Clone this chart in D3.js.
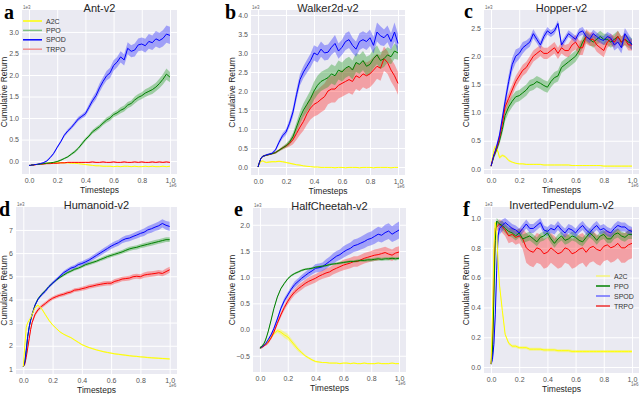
<!DOCTYPE html>
<html>
<head>
<meta charset="utf-8">
<script src="https://cdn.jsdelivr.net/npm/d3@7"></script>
<style>
  body { margin: 0; background: #fff; }
  svg { display: block; }
</style>
</head>
<body>
<svg id="chart" width="640" height="394"></svg>
<script>
// shared timestep grid (units of 1e6), denser at the start
const timesteps = [0, 0.01, 0.02, 0.03, 0.04, 0.05, 0.06, 0.08, 0.1,
  0.125, 0.15, 0.175, 0.2, 0.225, 0.25, 0.275, 0.3, 0.325, 0.35, 0.375, 0.4,
  0.425, 0.45, 0.475, 0.5, 0.525, 0.55, 0.575, 0.6, 0.625, 0.65, 0.675, 0.7,
  0.725, 0.75, 0.775, 0.8, 0.825, 0.85, 0.875, 0.9, 0.925, 0.95, 0.975, 1.0];

const algorithms = ['A2C', 'PPO', 'SPOD', 'TRPO'];
const xTicks = [0, 0.2, 0.4, 0.6, 0.8, 1.0];

// ---- Ant-v2 (1e3) ----
const antA2C = [-0.10,-0.10,-0.09,-0.09,-0.08,-0.08,-0.07,-0.07,-0.06,
  -0.05,-0.05,-0.04,-0.04,-0.04,-0.04,-0.04,-0.05,-0.05,-0.06,-0.07,-0.08,
  -0.09,-0.10,-0.11,-0.11,-0.12,-0.12,-0.12,-0.13,-0.12,-0.13,-0.12,-0.12,
  -0.13,-0.12,-0.13,-0.13,-0.12,-0.13,-0.12,-0.13,-0.13,-0.12,-0.13,-0.12];
const antA2CBand = [0.01,0.01,0.01,0.01,0.01,0.01,0.01,0.01,0.01,
  0.01,0.01,0.01,0.01,0.01,0.01,0.01,0.01,0.01,0.01,0.01,0.01,
  0.01,0.01,0.01,0.01,0.01,0.01,0.01,0.01,0.01,0.01,0.01,0.01,
  0.01,0.01,0.01,0.01,0.01,0.01,0.01,0.01,0.01,0.01,0.01,0.01];
const antPPO = [-0.10,-0.10,-0.09,-0.09,-0.08,-0.08,-0.08,-0.07,-0.06,
  -0.05,-0.04,-0.03,-0.01,0.02,0.06,0.10,0.16,0.22,0.30,0.40,0.50,
  0.58,0.68,0.74,0.80,0.88,0.95,1.00,1.08,1.12,1.18,1.22,1.30,
  1.34,1.42,1.48,1.52,1.58,1.62,1.66,1.72,1.80,1.90,2.02,1.95];
const antPPOBand = [0.01,0.01,0.01,0.01,0.01,0.01,0.01,0.01,0.01,
  0.01,0.01,0.015,0.015,0.02,0.02,0.02,0.025,0.03,0.03,0.035,0.04,
  0.04,0.045,0.05,0.05,0.05,0.06,0.06,0.06,0.06,0.07,0.07,0.07,
  0.07,0.08,0.08,0.08,0.09,0.09,0.1,0.1,0.11,0.12,0.13,0.12];
const antSPOD = [-0.10,-0.10,-0.09,-0.09,-0.08,-0.08,-0.07,-0.06,-0.04,
  0.00,0.08,0.18,0.32,0.45,0.60,0.70,0.78,0.88,0.98,1.04,1.10,
  1.25,1.40,1.52,1.70,1.85,1.98,2.05,2.22,2.30,2.42,2.35,2.62,
  2.55,2.58,2.70,2.72,2.68,2.78,2.75,2.84,2.80,2.85,2.95,2.92];
const antSPODBand = [0.01,0.01,0.01,0.01,0.01,0.01,0.01,0.015,0.015,
  0.02,0.02,0.025,0.03,0.03,0.035,0.04,0.04,0.045,0.05,0.05,0.06,
  0.07,0.08,0.09,0.1,0.1,0.11,0.12,0.12,0.12,0.13,0.13,0.14,
  0.14,0.15,0.15,0.15,0.16,0.17,0.17,0.18,0.18,0.19,0.2,0.2];
const antTRPO = [-0.10,-0.10,-0.09,-0.09,-0.09,-0.08,-0.08,-0.07,-0.07,
  -0.06,-0.06,-0.05,-0.05,-0.04,-0.04,-0.03,-0.03,-0.03,-0.03,-0.03,-0.03,
  -0.03,-0.02,-0.03,-0.03,-0.02,-0.03,-0.03,-0.02,-0.03,-0.03,-0.02,-0.03,
  -0.03,-0.02,-0.03,-0.02,-0.03,-0.03,-0.02,-0.03,-0.02,-0.03,-0.02,-0.03];
const antTRPOBand = [0.01,0.01,0.01,0.01,0.01,0.01,0.01,0.01,0.01,
  0.01,0.01,0.01,0.01,0.015,0.015,0.015,0.015,0.015,0.015,0.015,0.015,
  0.015,0.015,0.015,0.015,0.015,0.015,0.015,0.015,0.015,0.015,0.015,0.015,
  0.015,0.015,0.015,0.015,0.015,0.015,0.015,0.015,0.015,0.015,0.015,0.015];

// ---- Walker2d-v2 (1e3) ----
const walkerA2C = [0.00,0.08,0.14,0.16,0.15,0.13,0.12,0.13,0.14,
  0.14,0.15,0.14,0.12,0.10,0.08,0.06,0.05,0.03,0.02,0.01,0.00,
  0.00,-0.01,-0.01,-0.01,-0.01,-0.02,-0.01,-0.01,-0.02,-0.01,-0.01,-0.01,
  -0.02,-0.01,-0.01,-0.01,-0.02,-0.01,-0.01,-0.01,-0.01,-0.02,-0.01,-0.01];
const walkerA2CBand = [0.01,0.01,0.02,0.02,0.02,0.02,0.02,0.02,0.02,
  0.02,0.02,0.02,0.02,0.02,0.02,0.015,0.015,0.01,0.01,0.01,0.01,
  0.01,0.01,0.01,0.01,0.01,0.01,0.01,0.01,0.01,0.01,0.01,0.01,
  0.01,0.01,0.01,0.01,0.01,0.01,0.01,0.01,0.01,0.01,0.01,0.01];
const walkerPPO = [0.00,0.12,0.22,0.27,0.29,0.30,0.31,0.33,0.35,
  0.38,0.44,0.50,0.56,0.65,0.80,1.05,1.30,1.50,1.65,1.80,2.00,
  2.15,2.25,2.30,2.35,2.45,2.40,2.55,2.50,2.60,2.65,2.55,2.75,
  2.70,2.80,2.65,2.70,2.85,2.95,2.80,2.85,2.95,2.90,3.05,3.00];
const walkerPPOBand = [0.01,0.02,0.02,0.02,0.02,0.02,0.02,0.02,0.02,
  0.03,0.03,0.04,0.05,0.07,0.1,0.13,0.16,0.18,0.2,0.22,0.24,
  0.25,0.25,0.25,0.25,0.25,0.25,0.25,0.25,0.25,0.25,0.25,0.25,
  0.25,0.25,0.25,0.25,0.25,0.25,0.22,0.22,0.2,0.2,0.2,0.18];
const walkerSPOD = [0.00,0.12,0.22,0.27,0.29,0.30,0.32,0.34,0.36,
  0.45,0.65,0.82,0.92,1.15,1.45,1.90,2.30,2.50,2.65,2.80,3.00,
  2.95,3.10,3.00,3.02,3.15,3.25,3.05,3.15,3.30,3.35,3.20,3.10,
  3.30,3.35,3.30,3.40,3.20,3.55,3.45,3.40,3.50,3.30,3.55,3.25];
const walkerSPODBand = [0.01,0.02,0.02,0.02,0.02,0.02,0.02,0.02,0.03,
  0.04,0.06,0.07,0.08,0.1,0.12,0.14,0.15,0.16,0.17,0.18,0.2,
  0.2,0.2,0.2,0.2,0.2,0.22,0.2,0.2,0.22,0.22,0.2,0.2,
  0.22,0.22,0.22,0.22,0.22,0.25,0.25,0.22,0.22,0.22,0.25,0.25];
const walkerTRPO = [0.00,0.12,0.22,0.27,0.29,0.30,0.31,0.33,0.35,
  0.38,0.44,0.50,0.55,0.62,0.72,0.88,1.05,1.20,1.40,1.55,1.65,
  1.70,1.78,1.85,2.00,2.05,2.05,2.15,2.20,2.25,2.30,2.25,2.40,
  2.35,2.45,2.40,2.45,2.55,2.65,2.60,2.85,2.75,2.55,2.40,2.20];
const walkerTRPOBand = [0.01,0.02,0.02,0.02,0.02,0.02,0.02,0.02,0.02,
  0.03,0.03,0.04,0.05,0.08,0.12,0.16,0.2,0.24,0.28,0.3,0.32,
  0.33,0.34,0.35,0.35,0.35,0.35,0.35,0.35,0.35,0.35,0.35,0.35,
  0.35,0.35,0.35,0.35,0.35,0.33,0.33,0.32,0.3,0.3,0.3,0.3];

// ---- Hopper-v2 (1e3) ----
const hopperA2C = [0.05,0.20,0.33,0.40,0.36,0.30,0.20,0.24,0.22,
  0.15,0.12,0.10,0.09,0.09,0.08,0.08,0.08,0.08,0.08,0.07,0.07,
  0.07,0.07,0.07,0.07,0.07,0.07,0.06,0.06,0.06,0.06,0.06,0.06,
  0.06,0.06,0.06,0.05,0.05,0.05,0.05,0.05,0.05,0.05,0.05,0.05];
const hopperA2CBand = [0.01,0.02,0.03,0.03,0.03,0.03,0.03,0.02,0.02,
  0.02,0.01,0.01,0.01,0.01,0.01,0.01,0.01,0.01,0.01,0.01,0.01,
  0.01,0.01,0.01,0.01,0.01,0.01,0.01,0.01,0.01,0.01,0.01,0.01,
  0.01,0.01,0.01,0.01,0.01,0.01,0.01,0.01,0.01,0.01,0.01,0.01];
const hopperPPO = [0.05,0.13,0.22,0.28,0.35,0.42,0.50,0.70,0.95,
  1.10,1.20,1.28,1.30,1.35,1.40,1.48,1.50,1.55,1.52,1.48,1.45,
  1.55,1.62,1.65,1.80,1.85,1.90,1.95,2.00,2.10,2.25,2.35,2.30,
  2.25,2.30,2.35,2.30,2.30,2.25,2.30,2.35,2.25,2.30,2.25,2.22];
const hopperPPOBand = [0.02,0.03,0.03,0.04,0.05,0.05,0.06,0.08,0.1,
  0.1,0.1,0.1,0.1,0.1,0.1,0.1,0.1,0.1,0.1,0.1,0.1,
  0.1,0.1,0.1,0.1,0.1,0.1,0.1,0.1,0.1,0.1,0.1,0.1,
  0.1,0.1,0.1,0.1,0.1,0.1,0.1,0.1,0.1,0.1,0.1,0.1];
const hopperSPOD = [0.05,0.15,0.25,0.32,0.40,0.50,0.60,0.90,1.20,
  1.55,1.85,2.00,2.05,2.15,2.20,2.25,2.40,2.30,2.20,2.35,2.45,
  2.40,2.45,2.58,2.20,2.30,2.40,2.35,2.30,2.42,2.45,2.35,2.30,
  2.40,2.35,2.30,2.28,2.35,2.32,2.20,2.25,2.15,2.40,2.30,2.20];
const hopperSPODBand = [0.02,0.03,0.03,0.04,0.05,0.05,0.06,0.08,0.1,
  0.12,0.12,0.12,0.1,0.1,0.08,0.08,0.08,0.07,0.07,0.07,0.07,
  0.06,0.06,0.06,0.06,0.06,0.06,0.06,0.06,0.07,0.07,0.07,0.07,
  0.07,0.07,0.07,0.08,0.08,0.08,0.1,0.1,0.1,0.1,0.1,0.1];
const hopperTRPO = [0.05,0.15,0.24,0.30,0.38,0.45,0.55,0.80,1.10,
  1.25,1.40,1.55,1.65,1.75,1.80,1.90,2.00,2.05,2.10,2.05,2.05,
  2.10,2.15,2.05,2.15,2.10,2.10,2.20,2.25,2.15,2.15,2.35,2.30,
  2.30,2.20,2.15,2.10,2.25,2.30,2.25,2.35,2.25,2.30,2.20,2.20];
const hopperTRPOBand = [0.02,0.03,0.03,0.04,0.05,0.05,0.06,0.08,0.1,
  0.1,0.1,0.1,0.1,0.1,0.1,0.1,0.1,0.1,0.1,0.1,0.1,
  0.1,0.1,0.1,0.1,0.1,0.12,0.12,0.13,0.13,0.13,0.13,0.12,
  0.12,0.12,0.12,0.12,0.1,0.1,0.1,0.1,0.1,0.1,0.1,0.1];

// ---- Humanoid-v2 (1e3) ----
const humanoidA2C = [1.10,2.00,2.80,3.00,3.10,3.20,3.35,3.65,3.75,
  3.60,3.35,3.10,2.90,2.75,2.60,2.50,2.42,2.35,2.25,2.15,2.05,
  1.98,1.92,1.87,1.82,1.78,1.74,1.71,1.68,1.65,1.63,1.61,1.59,
  1.57,1.55,1.54,1.52,1.51,1.49,1.48,1.47,1.46,1.45,1.44,1.43];
const humanoidA2CBand = [0.02,0.03,0.04,0.04,0.04,0.04,0.04,0.04,0.04,
  0.04,0.04,0.04,0.03,0.03,0.03,0.03,0.03,0.03,0.03,0.03,0.03,
  0.03,0.03,0.03,0.03,0.03,0.03,0.03,0.03,0.03,0.03,0.03,0.03,
  0.03,0.03,0.03,0.03,0.03,0.03,0.03,0.03,0.03,0.03,0.03,0.03];
const humanoidPPO = [1.10,1.30,1.80,2.40,2.80,3.10,3.35,3.75,4.02,
  4.22,4.38,4.55,4.70,4.83,4.95,5.05,5.15,5.22,5.30,5.35,5.42,
  5.50,5.55,5.60,5.65,5.72,5.78,5.85,5.90,5.95,6.00,6.05,6.12,
  6.18,6.22,6.25,6.30,6.34,6.38,6.42,6.46,6.50,6.54,6.58,6.58];
const humanoidPPOBand = [0.02,0.03,0.04,0.05,0.05,0.05,0.05,0.05,0.05,
  0.05,0.05,0.05,0.05,0.05,0.05,0.06,0.06,0.06,0.06,0.06,0.06,
  0.07,0.07,0.07,0.07,0.07,0.08,0.08,0.08,0.08,0.08,0.08,0.09,
  0.09,0.09,0.09,0.09,0.1,0.1,0.1,0.1,0.1,0.1,0.1,0.1];
const humanoidSPOD = [1.10,1.30,1.80,2.40,2.80,3.10,3.35,3.75,4.00,
  4.20,4.35,4.55,4.70,4.85,5.00,5.15,5.25,5.35,5.40,5.50,5.55,
  5.62,5.70,5.80,5.90,6.00,6.10,6.20,6.30,6.38,6.45,6.55,6.62,
  6.65,6.72,6.78,6.85,6.90,7.00,7.05,7.12,7.18,7.28,7.20,7.15];
const humanoidSPODBand = [0.02,0.03,0.04,0.05,0.05,0.05,0.05,0.05,0.05,
  0.06,0.06,0.06,0.07,0.07,0.07,0.08,0.08,0.08,0.09,0.09,0.1,
  0.1,0.1,0.11,0.11,0.11,0.12,0.12,0.12,0.13,0.13,0.13,0.14,
  0.14,0.14,0.15,0.15,0.16,0.16,0.17,0.17,0.18,0.18,0.19,0.2];
const humanoidTRPO = [1.10,1.20,1.50,1.90,2.30,2.70,3.00,3.35,3.55,
  3.70,3.82,3.95,4.05,4.12,4.18,4.22,4.28,4.32,4.40,4.42,4.46,
  4.50,4.55,4.58,4.62,4.65,4.68,4.70,4.70,4.78,4.82,4.88,4.90,
  4.92,4.98,5.00,4.98,5.05,5.08,5.10,5.12,5.15,5.12,5.20,5.28];
const humanoidTRPOBand = [0.02,0.03,0.05,0.06,0.07,0.08,0.08,0.08,0.08,
  0.08,0.08,0.08,0.08,0.08,0.08,0.08,0.08,0.08,0.08,0.08,0.09,
  0.09,0.09,0.09,0.09,0.09,0.1,0.1,0.1,0.1,0.1,0.1,0.1,
  0.1,0.11,0.11,0.11,0.11,0.12,0.12,0.12,0.12,0.12,0.13,0.13];

// ---- HalfCheetah-v2 (1e3) ----
const cheetahA2C = [-0.35,-0.34,-0.32,-0.30,-0.28,-0.25,-0.22,-0.15,-0.08,
  -0.02,-0.05,-0.10,-0.14,-0.22,-0.30,-0.38,-0.44,-0.50,-0.54,-0.58,-0.61,
  -0.62,-0.63,-0.63,-0.64,-0.64,-0.64,-0.65,-0.64,-0.64,-0.65,-0.64,-0.65,
  -0.65,-0.64,-0.65,-0.65,-0.65,-0.64,-0.65,-0.65,-0.65,-0.64,-0.65,-0.65];
const cheetahA2CBand = [0.02,0.02,0.02,0.02,0.02,0.02,0.02,0.02,0.03,
  0.04,0.05,0.06,0.06,0.05,0.05,0.04,0.03,0.02,0.02,0.02,0.02,
  0.01,0.01,0.01,0.01,0.01,0.01,0.01,0.01,0.01,0.01,0.01,0.01,
  0.01,0.01,0.01,0.01,0.01,0.01,0.01,0.01,0.01,0.01,0.01,0.01];
const cheetahPPO = [-0.35,-0.33,-0.30,-0.26,-0.20,-0.12,-0.03,0.18,0.40,
  0.62,0.78,0.88,0.97,1.03,1.07,1.10,1.13,1.15,1.16,1.17,1.19,
  1.20,1.21,1.22,1.24,1.25,1.26,1.27,1.28,1.29,1.30,1.30,1.31,
  1.32,1.32,1.33,1.33,1.34,1.35,1.34,1.35,1.35,1.36,1.35,1.36];
const cheetahPPOBand = [0.02,0.02,0.02,0.02,0.02,0.02,0.02,0.02,0.02,
  0.02,0.02,0.02,0.02,0.02,0.02,0.02,0.02,0.02,0.02,0.02,0.02,
  0.02,0.02,0.02,0.02,0.02,0.025,0.025,0.025,0.025,0.025,0.025,0.025,
  0.025,0.03,0.03,0.03,0.03,0.03,0.03,0.03,0.03,0.03,0.03,0.03];
const cheetahSPOD = [-0.35,-0.34,-0.32,-0.30,-0.27,-0.23,-0.19,-0.10,0.02,
  0.20,0.40,0.55,0.66,0.77,0.86,0.92,0.98,1.03,1.08,1.12,1.17,
  1.18,1.20,1.25,1.30,1.35,1.40,1.43,1.48,1.52,1.55,1.60,1.62,
  1.65,1.68,1.72,1.74,1.78,1.82,1.80,1.85,1.88,1.82,1.86,1.90];
const cheetahSPODBand = [0.02,0.02,0.02,0.02,0.02,0.02,0.03,0.03,0.03,
  0.04,0.04,0.05,0.05,0.05,0.06,0.06,0.06,0.07,0.07,0.07,0.08,
  0.08,0.08,0.09,0.09,0.1,0.1,0.1,0.11,0.11,0.11,0.12,0.12,
  0.12,0.13,0.13,0.13,0.14,0.14,0.14,0.15,0.15,0.15,0.16,0.16];
const cheetahTRPO = [-0.35,-0.34,-0.33,-0.31,-0.29,-0.27,-0.24,-0.16,-0.05,
  0.12,0.28,0.42,0.54,0.64,0.72,0.78,0.83,0.88,0.92,0.95,0.98,
  1.02,1.05,1.08,1.10,1.14,1.17,1.20,1.23,1.25,1.27,1.30,1.30,
  1.33,1.36,1.38,1.40,1.42,1.43,1.45,1.47,1.44,1.42,1.46,1.48];
const cheetahTRPOBand = [0.02,0.02,0.02,0.02,0.02,0.03,0.03,0.03,0.04,
  0.04,0.05,0.05,0.06,0.06,0.06,0.07,0.07,0.07,0.08,0.08,0.08,
  0.08,0.08,0.09,0.09,0.09,0.09,0.09,0.1,0.1,0.1,0.1,0.1,
  0.1,0.1,0.1,0.1,0.11,0.11,0.11,0.11,0.11,0.11,0.11,0.11];

// ---- InvertedPendulum-v2 (1e3) ----
const pendulumA2C = [0.02,0.35,0.80,0.97,0.90,0.70,0.55,0.38,0.22,
  0.16,0.14,0.14,0.13,0.13,0.13,0.12,0.12,0.12,0.12,0.115,0.115,
  0.115,0.115,0.11,0.11,0.11,0.11,0.105,0.105,0.105,0.105,0.105,0.105,
  0.105,0.105,0.105,0.105,0.105,0.105,0.105,0.105,0.105,0.105,0.105,0.105];
const pendulumA2CBand = [0.01,0.02,0.02,0.02,0.02,0.02,0.02,0.02,0.01,
  0.01,0.01,0.01,0.01,0.01,0.01,0.01,0.01,0.01,0.01,0.01,0.01,
  0.01,0.01,0.01,0.01,0.01,0.01,0.01,0.01,0.01,0.01,0.01,0.01,
  0.01,0.01,0.01,0.01,0.01,0.01,0.01,0.01,0.01,0.01,0.01,0.01];
const pendulumPPO = [0.02,0.10,0.45,0.85,0.98,0.97,0.96,0.95,0.93,
  0.91,0.90,0.88,0.90,0.86,0.87,0.88,0.86,0.84,0.87,0.88,0.90,
  0.86,0.83,0.86,0.88,0.85,0.86,0.88,0.87,0.85,0.84,0.87,0.90,
  0.88,0.85,0.88,0.89,0.86,0.86,0.89,0.90,0.88,0.87,0.89,0.89];
const pendulumPPOBand = [0.01,0.02,0.03,0.03,0.02,0.02,0.02,0.03,0.03,
  0.03,0.03,0.03,0.03,0.03,0.03,0.03,0.03,0.03,0.03,0.03,0.03,
  0.03,0.03,0.03,0.03,0.03,0.03,0.03,0.03,0.03,0.03,0.03,0.03,
  0.03,0.03,0.03,0.03,0.03,0.03,0.03,0.03,0.03,0.03,0.03,0.03];
const pendulumSPOD = [0.02,0.05,0.15,0.35,0.65,0.88,0.93,0.95,0.97,
  0.95,0.93,0.92,0.90,0.93,0.96,0.93,0.93,0.95,0.97,0.92,0.91,
  0.93,0.92,0.95,0.92,0.90,0.93,0.92,0.90,0.93,0.95,0.92,0.90,
  0.93,0.95,0.92,0.93,0.91,0.90,0.93,0.95,0.94,0.94,0.92,0.91];
const pendulumSPODBand = [0.01,0.02,0.03,0.04,0.05,0.05,0.04,0.04,0.03,
  0.03,0.03,0.03,0.03,0.03,0.03,0.03,0.03,0.03,0.03,0.03,0.03,
  0.03,0.03,0.03,0.03,0.03,0.03,0.03,0.03,0.03,0.03,0.03,0.03,
  0.03,0.03,0.03,0.03,0.03,0.03,0.03,0.03,0.03,0.03,0.03,0.03];
const pendulumTRPO = [0.02,0.15,0.60,0.93,0.94,0.95,0.96,0.94,0.92,
  0.88,0.89,0.87,0.88,0.86,0.80,0.78,0.77,0.80,0.79,0.76,0.77,
  0.80,0.78,0.76,0.77,0.80,0.79,0.76,0.77,0.79,0.80,0.77,0.80,
  0.81,0.79,0.78,0.81,0.82,0.80,0.81,0.83,0.80,0.80,0.82,0.83];
const pendulumTRPOBand = [0.01,0.02,0.03,0.03,0.03,0.03,0.03,0.04,0.04,
  0.05,0.05,0.05,0.05,0.07,0.1,0.1,0.1,0.1,0.1,0.1,0.1,
  0.1,0.1,0.1,0.1,0.1,0.1,0.1,0.1,0.1,0.1,0.1,0.1,
  0.1,0.1,0.1,0.1,0.1,0.1,0.1,0.1,0.1,0.1,0.1,0.1];

const lineColor = { A2C: '#ffff00', PPO: '#008000', SPOD: '#0000ff', TRPO: '#ff0000' };
const bandColor = { A2C: '#ffff00', PPO: '#2ca02c', SPOD: '#3333ff', TRPO: '#ff3333' };

const svg = d3.select('#chart');

function drawPanel(p) {
  const g = svg.append('g');
  const x = d3.scaleLinear().domain([-0.05, 1.05]).range([p.left, p.right]);
  const y = d3.scaleLinear().domain(p.yDomain).range([p.bottom, p.top]);
  const w = p.right - p.left, h = p.bottom - p.top;

  g.append('rect').attr('x', p.left).attr('y', p.top).attr('width', w).attr('height', h)
    .attr('fill', '#eaeaf2');

  // grid + tick labels via axes
  const xAxis = g.append('g').attr('transform', `translate(0,${p.bottom})`)
    .call(d3.axisBottom(x).tickValues(xTicks).tickSize(-h).tickPadding(4).tickFormat(d3.format('.1f')));
  const yAxis = g.append('g').attr('transform', `translate(${p.left},0)`)
    .call(d3.axisLeft(y).tickValues(p.yTicks).tickSize(-w).tickPadding(3).tickFormat(d3.format(p.yFormat)));
  [xAxis, yAxis].forEach(a => {
    a.select('.domain').remove();
    a.selectAll('line').attr('stroke', '#fff').attr('stroke-width', 1);
    a.selectAll('text').attr('fill', '#555').style('font-family', 'Liberation Sans, Arial, sans-serif').style('font-size', '7px');
  });

  const clipId = 'clip-' + p.id;
  g.append('clipPath').attr('id', clipId).append('rect')
    .attr('x', p.left).attr('y', p.top).attr('width', w).attr('height', h);
  const plot = g.append('g').attr('clip-path', `url(#${clipId})`);

  const area = d3.area().x((d, i) => x(timesteps[i])).y0(d => y(d[0] - d[1])).y1(d => y(d[0] + d[1]));
  const line = d3.line().x((d, i) => x(timesteps[i])).y(d => y(d));

  p.order.forEach(name => {
    const s = p.series[name];
    plot.append('path').datum(s.values.map((v, i) => [v, s.band[i]]))
      .attr('d', area).attr('fill', bandColor[name]).attr('fill-opacity', name === 'A2C' ? 0.35 : 0.4);
  });
  p.order.forEach(name => {
    const s = p.series[name];
    plot.append('path').datum(s.values).attr('d', line)
      .attr('fill', 'none').attr('stroke', lineColor[name]).attr('stroke-width', 1);
  });

  // title, labels
  g.append('text').attr('x', (p.left + p.right) / 2).attr('y', p.top + 2).attr('text-anchor', 'middle')
    .style('font-family', 'Liberation Sans, Arial, sans-serif').style('font-size', '11px').attr('fill', '#262626')
    .text(p.title);
  g.append('text').attr('x', (p.left + p.right) / 2).attr('y', p.bottom + 19).attr('text-anchor', 'middle')
    .style('font-family', 'Liberation Sans, Arial, sans-serif').style('font-size', '8.5px').attr('fill', '#262626')
    .text('Timesteps');
  g.append('text').attr('transform', `translate(${p.yLabelX},${(p.top + p.bottom) / 2}) rotate(-90)`)
    .attr('text-anchor', 'middle')
    .style('font-family', 'Liberation Sans, Arial, sans-serif').style('font-size', '8.5px').attr('fill', '#262626')
    .text('Cumulative Return');
  // offset (exponent) labels
  g.append('text').attr('x', p.left + 1).attr('y', p.top - 1)
    .style('font-family', 'Liberation Sans, Arial, sans-serif').style('font-size', '4.5px').attr('fill', '#666')
    .text('1e3');
  g.append('text').attr('x', x(1.0) - 1).attr('y', p.bottom + 13)
    .style('font-family', 'Liberation Sans, Arial, sans-serif').style('font-size', '4.5px').attr('fill', '#666')
    .text('1e6');
  // panel letter
  g.append('text').attr('x', p.letterX).attr('y', p.letterY)
    .style('font-family', 'Liberation Serif, Times New Roman, serif').style('font-size', '20px')
    .style('font-weight', 'bold').attr('fill', '#000').text(p.letter);

  if (p.legend) {
    const lg = p.legend;
    algorithms.forEach((name, i) => {
      const yy = lg.y + i * lg.dy;
      g.append('line').attr('x1', lg.x).attr('x2', lg.x + lg.len).attr('y1', yy).attr('y2', yy)
        .attr('stroke', lg.colors[i]).attr('stroke-width', 1.5);
      g.append('text').attr('x', lg.x + lg.len + 4).attr('y', yy + 2.5)
        .style('font-family', 'Liberation Sans, Arial, sans-serif').style('font-size', '7px').attr('fill', '#333')
        .text(name);
    });
  }
}

const panels = [
  { id: 'a', letter: 'a', title: 'Ant-v2', left: 22, right: 177, top: 10, bottom: 174,
    yDomain: [-0.30, 3.51], yTicks: [0, 0.5, 1, 1.5, 2, 2.5, 3], yFormat: '.1f', yLabelX: 7,
    letterX: 4, letterY: 19, order: ['A2C', 'TRPO', 'PPO', 'SPOD'],
    series: { A2C: { values: antA2C, band: antA2CBand }, PPO: { values: antPPO, band: antPPOBand },
      SPOD: { values: antSPOD, band: antSPODBand }, TRPO: { values: antTRPO, band: antTRPOBand } },
    legend: { x: 23, y: 21, dy: 9.4, len: 19, colors: ['#ffff00', '#80c080', '#0000ff', '#f09090'] } },
  { id: 'b', letter: 'b', title: 'Walker2d-v2', left: 251, right: 405, top: 10, bottom: 175,
    yDomain: [-0.21, 4.13], yTicks: [0, 0.5, 1, 1.5, 2, 2.5, 3, 3.5, 4], yFormat: '.1f', yLabelX: 235,
    letterX: 225, letterY: 19, order: ['A2C', 'TRPO', 'PPO', 'SPOD'],
    series: { A2C: { values: walkerA2C, band: walkerA2CBand }, PPO: { values: walkerPPO, band: walkerPPOBand },
      SPOD: { values: walkerSPOD, band: walkerSPODBand }, TRPO: { values: walkerTRPO, band: walkerTRPOBand } } },
  { id: 'c', letter: 'c', title: 'Hopper-v2', left: 484, right: 639, top: 10, bottom: 174,
    yDomain: [-0.09, 2.82], yTicks: [0, 0.5, 1, 1.5, 2, 2.5], yFormat: '.1f', yLabelX: 469,
    letterX: 464, letterY: 18, order: ['A2C', 'PPO', 'TRPO', 'SPOD'],
    series: { A2C: { values: hopperA2C, band: hopperA2CBand }, PPO: { values: hopperPPO, band: hopperPPOBand },
      SPOD: { values: hopperSPOD, band: hopperSPODBand }, TRPO: { values: hopperTRPO, band: hopperTRPOBand } } },
  { id: 'd', letter: 'd', title: 'Humanoid-v2', left: 16, right: 177, top: 207, bottom: 374,
    yDomain: [0.78, 7.99], yTicks: [1, 2, 3, 4, 5, 6, 7], yFormat: 'd', yLabelX: 7,
    letterX: -1, letterY: 216, order: ['TRPO', 'PPO', 'SPOD', 'A2C'],
    series: { A2C: { values: humanoidA2C, band: humanoidA2CBand }, PPO: { values: humanoidPPO, band: humanoidPPOBand },
      SPOD: { values: humanoidSPOD, band: humanoidSPODBand }, TRPO: { values: humanoidTRPO, band: humanoidTRPOBand } } },
  { id: 'e', letter: 'e', title: 'HalfCheetah-v2', left: 253, right: 406, top: 208, bottom: 372,
    yDomain: [-0.81, 2.32], yTicks: [-0.5, 0, 0.5, 1, 1.5, 2], yFormat: '.1f', yLabelX: 235,
    letterX: 234, letterY: 216, order: ['A2C', 'TRPO', 'SPOD', 'PPO'],
    series: { A2C: { values: cheetahA2C, band: cheetahA2CBand }, PPO: { values: cheetahPPO, band: cheetahPPOBand },
      SPOD: { values: cheetahSPOD, band: cheetahSPODBand }, TRPO: { values: cheetahTRPO, band: cheetahTRPOBand } } },
  { id: 'f', letter: 'f', title: 'InvertedPendulum-v2', left: 484, right: 639, top: 207, bottom: 373,
    yDomain: [-0.04, 1.074], yTicks: [0, 0.2, 0.4, 0.6, 0.8, 1.0], yFormat: '.1f', yLabelX: 469,
    letterX: 463, letterY: 216, order: ['TRPO', 'PPO', 'SPOD', 'A2C'],
    series: { A2C: { values: pendulumA2C, band: pendulumA2CBand }, PPO: { values: pendulumPPO, band: pendulumPPOBand },
      SPOD: { values: pendulumSPOD, band: pendulumSPODBand }, TRPO: { values: pendulumTRPO, band: pendulumTRPOBand } },
    legend: { x: 596, y: 276, dy: 10, len: 14, colors: ['#f5f57a', '#008000', '#6b6bff', '#ee3030'] } }
];

panels.forEach(drawPanel);
</script>
</body>
</html>
